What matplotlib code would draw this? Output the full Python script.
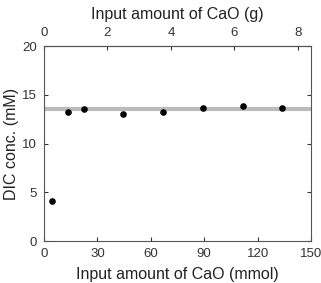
import matplotlib
matplotlib.use("Agg")
import matplotlib.pyplot as plt

plt.rcParams['font.family'] = ['Liberation Sans', 'DejaVu Sans']

cao_mmol = [4.46, 13.4, 22.3, 44.6, 66.9, 89.2, 111.5, 133.8]
dic_mM = [4.1, 13.2, 13.6, 13.0, 13.2, 13.65, 13.85, 13.65]
plateau = 13.5
x_ticks = [0, 30, 60, 90, 120, 150]
y_ticks = [0, 5, 10, 15, 20]
top_ticks = [0, 2, 4, 6, 8]
MW_CAO = 56.08

fig = plt.figure(figsize=(3.21, 2.83), dpi=100)
ax = fig.add_axes([0.137, 0.148, 0.832, 0.689])

ax.axhline(plateau, color='#bbbbbb', lw=3.0, zorder=1)
ax.scatter(cao_mmol, dic_mM, s=14, color='black', zorder=3)

ax.set_xlim(0, 150)
ax.set_ylim(0, 20)
ax.set_xticks(x_ticks)
ax.set_yticks(y_ticks)
ax.tick_params(direction='in', length=3, labelsize=9.5, colors='#333333', width=0.8, pad=5)
ax.tick_params(axis='y', right=True, pad=5)
for s in ax.spines.values():
    s.set_color('#555555')
    s.set_linewidth(0.8)

ax.set_xlabel('Input amount of CaO (mmol)', fontsize=11.5, color='#222222', labelpad=5)
ax.set_ylabel('DIC conc. (mM)', fontsize=11.5, color='#222222', labelpad=2)

sec = ax.secondary_xaxis('top', functions=(lambda m: m * MW_CAO / 1000, lambda g: g * 1000 / MW_CAO))
sec.set_xticks(top_ticks)
sec.tick_params(direction='in', length=3, labelsize=9.5, colors='#333333', width=0.8, pad=5)
sec.spines['top'].set_color('#555555')
sec.set_xlabel('Input amount of CaO (g)', fontsize=11.5, color='#222222', labelpad=6)

fig.savefig('out.png', dpi=100)
